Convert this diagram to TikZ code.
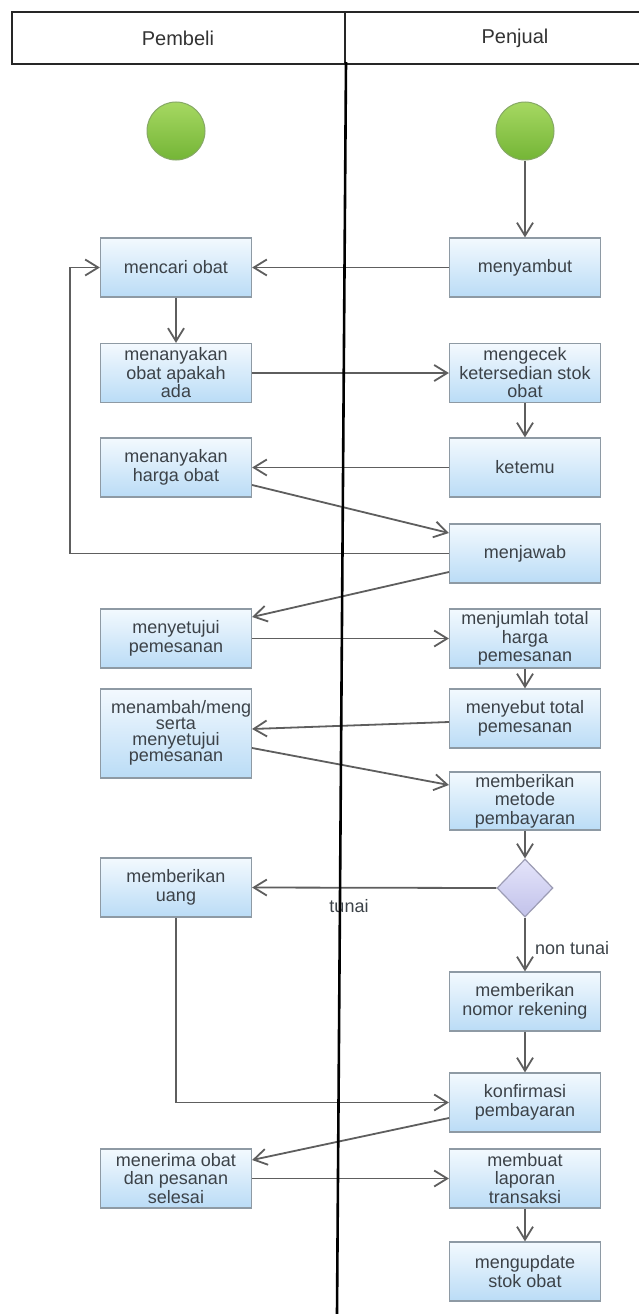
\documentclass[tikz,border=0pt]{standalone}
\usepackage{fontspec}
\setmainfont{Liberation Sans}
\usetikzlibrary{arrows.meta,shapes.geometric}
\definecolor{boxtop}{HTML}{F3F9FE}
\definecolor{boxbot}{HTML}{BADCF6}
\definecolor{boxline}{HTML}{8E9AA4}
\definecolor{ink}{HTML}{3C4248}
\definecolor{flow}{HTML}{5E5E5E}
\definecolor{greentop}{HTML}{A6D862}
\definecolor{greenbot}{HTML}{74B536}
\definecolor{greenline}{HTML}{86A866}
\definecolor{lavtop}{HTML}{E4E4FA}
\definecolor{lavbot}{HTML}{C2C2EA}
\definecolor{lavline}{HTML}{9C9CB4}
\newcommand{\boxfont}{\fontsize{18}{18.5}\selectfont}
\newcommand{\tightfont}{\fontsize{18}{16}\selectfont}
\begin{document}
\begin{tikzpicture}[x=1pt,y=-1pt,
  act/.style={rectangle, draw=boxline, line width=1.2pt, top color=boxtop,
    bottom color=boxbot, minimum width=151pt, minimum height=59pt,
    inner sep=0pt, align=center, text=ink, font=\boxfont},
  startnode/.style={circle, draw=greenline, line width=1pt, top color=greentop,
    bottom color=greenbot, minimum size=58pt, inner sep=0pt},
  decision/.style={diamond, draw=lavline, line width=1.2pt, top color=lavtop,
    bottom color=lavbot, minimum width=56pt, minimum height=58pt, inner sep=0pt},
  arr/.style={draw=flow, line width=1.8pt,
    -{Straight Barb[length=13pt,width=16pt,line width=1.8pt]}},
  lbl/.style={text=ink, font=\boxfont, inner sep=0pt},
  head/.style={text=black!80, font=\fontsize{20}{22}\selectfont, inner sep=0pt}]
\useasboundingbox (0,0) rectangle (638,1314);

% header of the two swimlanes
\draw[line width=1.6pt, draw=black!85] (645,12) -- (12,12) -- (12,64) -- (645,64);
\draw[line width=1.4pt, draw=black!85] (345,12) -- (345,64);
\node[head] (pembeli) at (178,38) {Pembeli};
\node[head] (penjual) at (515,38) {Penjual};

% start points
\node[startnode] (mulaiA) at (176,131) {};
\node[startnode] (mulaiB) at (525,131) {};

% Pembeli activities
\node[act] (cari)   at (176,267.5) {mencari obat};
\node[act] (tanya)  at (176,373)   {menanyakan\\obat apakah\\ada};
\node[act] (harga)  at (176,467.5) {menanyakan\\harga obat};
\node[act] (setuju) at (176,638.5) {menyetujui\\pemesanan};
% the first line is too long for the box and is cut at its border
\node[act, minimum height=89pt, font=\tightfont,
  path picture={\node[anchor=base west, inner sep=0pt, text=ink, font=\tightfont]
    at ([xshift=10pt,yshift=20.3pt]path picture bounding box.west)
    {menambah/mengurangi};}]
  (tambah) at (176,733.5) {\strut\\serta\\menyetujui\\pemesanan};
\node[act] (uang)   at (176,887.5) {memberikan\\uang};
\node[act] (terima) at (176,1178.5) {menerima obat\\dan pesanan\\selesai};

% Penjual activities
\node[act] (sambut)     at (525,267.5) {menyambut};
\node[act] (cek)        at (525,373)   {mengecek\\ketersedian stok\\obat};
\node[act] (temu)       at (525,467.5) {ketemu};
\node[act] (jawab)      at (525,553.5) {menjawab};
\node[act] (jumlah)     at (525,638.5) {menjumlah total\\harga\\pemesanan};
\node[act] (sebut)      at (525,718.5) {menyebut total\\pemesanan};
\node[act, minimum height=58pt] (metode) at (525,801) {memberikan\\metode\\pembayaran};
\node[decision] (pilih) at (525,888) {};
\node[act] (rekening)   at (525,1001.5) {memberikan\\nomor rekening};
\node[act] (konfirmasi) at (525,1102.5) {konfirmasi\\pembayaran};
\node[act] (laporan)    at (525,1178.5) {membuat\\laporan\\transaksi};
\node[act] (update)     at (525,1271.5) {mengupdate\\stok obat};

\coordinate (loop) at (70,0);

% control flow
\draw[arr] (mulaiB) -- (sambut);
\draw[arr] (sambut) -- (cari);
\draw[arr] (cari) -- (tanya);
\draw[arr] (tanya) -- (cek);
\draw[arr] (cek) -- (temu);
\draw[arr] (temu) -- (harga);
\draw[arr] ([yshift=-17.5pt]harga.east) -- ([yshift=20.5pt]jawab.west);
\draw[arr] (jawab.west) -- (jawab.west -| loop) |- (cari.west);
\draw[arr] ([yshift=-18.5pt]jawab.west) -- ([yshift=21.5pt]setuju.east);
\draw[arr] (setuju) -- (jumlah);
\draw[arr] (jumlah) -- (sebut);
\draw[arr] ([yshift=-3.5pt]sebut.west) -- ([yshift=4.5pt]tambah.east);
\draw[arr] ([yshift=-14.5pt]tambah.east) -- ([yshift=16pt]metode.west);
\draw[arr] (metode) -- (pilih);
\draw[arr] (pilih.west) -- (uang.east);
\node[lbl] (tunai) at (349,906) {tunai};
\draw[arr] (pilih.south) -- (rekening.north);
\node[lbl, anchor=west] (nontunai) at (535,948) {non tunai};
\draw[arr] (rekening) -- (konfirmasi);
\draw[arr] (uang.south) |- (konfirmasi.west);
\draw[arr] ([yshift=-15.5pt]konfirmasi.west) -- ([yshift=18.5pt]terima.east);
\draw[arr] (terima) -- (laporan);
\draw[arr] (laporan) -- (update);

% swimlane divider
\draw[line width=2.6pt, draw=black] (346,62) -- (337,1314);
\end{tikzpicture}
\end{document}
